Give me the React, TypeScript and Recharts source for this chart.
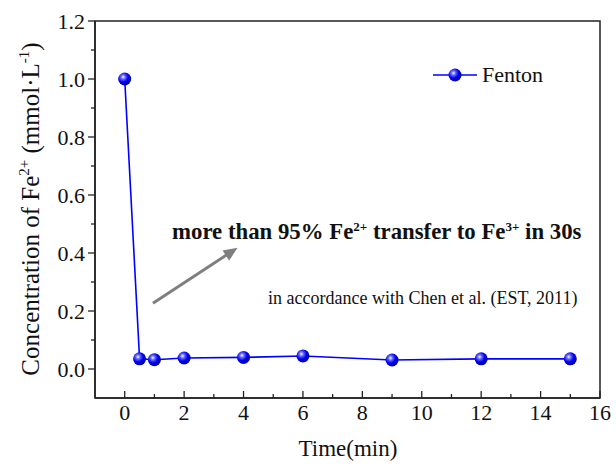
import React from "react";
import { LineChart, Line, XAxis, YAxis, ReferenceArea, ReferenceLine } from "recharts";

const timeMin = [0, 0.5, 1, 2, 4, 6, 9, 12, 15];
const fentonConc = [1.0, 0.035, 0.032, 0.038, 0.04, 0.045, 0.031, 0.035, 0.035];
const xTicks = [0, 1, 2, 3, 4, 5, 6, 7, 8, 9, 10, 11, 12, 13, 14, 15, 16];
const yTicks = [0, 0.1, 0.2, 0.3, 0.4, 0.5, 0.6, 0.7, 0.8, 0.9, 1.0, 1.1, 1.2];
const arrowFrom = { x: 0.95, y: 0.227 };
const arrowTo = { x: 3.8, y: 0.418 };

const data = timeMin.map((t, i) => ({ t, fenton: fentonConc[i] }));

const FONT = "'Liberation Serif', 'Times New Roman', serif";
const AXIS = "#222";

const GradDefs = () => (
  <defs>
    <radialGradient id="sphere" cx="38%" cy="35%" r="65%">
      <stop offset="0%" stopColor="#ffffff" />
      <stop offset="25%" stopColor="#6a6aff" />
      <stop offset="60%" stopColor="#0000f0" />
      <stop offset="100%" stopColor="#0000a0" />
    </radialGradient>
  </defs>
);

const SphereDot = (props: any) => {
  const { cx, cy, index } = props;
  if (cx == null || cy == null) return null;
  return (
    <g key={`d${index}`}>
      {index === 0 ? <GradDefs /> : null}
      <circle cx={cx} cy={cy} r={6.5} fill="url(#sphere)" />
    </g>
  );
};

const XTick = (props: any) => {
  const { x, y, payload } = props;
  const v = payload.value;
  const major = Math.round(v) % 2 === 0;
  return (
    <g>
      <line x1={x} x2={x} y1={y} y2={y - (major ? 7 : 4)} stroke={AXIS} strokeWidth={1.3} />
      {major ? (
        <text x={x} y={y + 22} textAnchor="middle" fontFamily={FONT} fontSize={22} fill="#111">
          {v}
        </text>
      ) : null}
    </g>
  );
};

const YTick = (props: any) => {
  const { x, y, payload } = props;
  const v = payload.value;
  const major = Math.round(v * 10) % 2 === 0;
  return (
    <g>
      <line x1={x} x2={x - (major ? 7 : 4)} y1={y} y2={y} stroke={AXIS} strokeWidth={1.3} />
      {major ? (
        <text x={x - 10} y={y + 7.5} textAnchor="end" fontFamily={FONT} fontSize={22} fill="#111">
          {v.toFixed(1)}
        </text>
      ) : null}
    </g>
  );
};

const ArrowShape = (props: any) => {
  const { x1, y1, x2, y2 } = props;
  if ([x1, y1, x2, y2].some((v) => v == null || isNaN(v))) return null;
  const ang = Math.atan2(y2 - y1, x2 - x1);
  const L = 14;
  const W = 6;
  const bx = x2 - L * Math.cos(ang);
  const by = y2 - L * Math.sin(ang);
  const px = -Math.sin(ang) * W;
  const py = Math.cos(ang) * W;
  return (
    <g>
      <line x1={x1} y1={y1} x2={bx + 2 * Math.cos(ang)} y2={by + 2 * Math.sin(ang)} stroke="#7f7f7f" strokeWidth={3} />
      <polygon points={`${x2},${y2} ${bx + px},${by + py} ${bx - px},${by - py}`} fill="#7f7f7f" />
    </g>
  );
};

export default function App() {
  return (
    <div style={{ position: "absolute", left: 0, top: 0, width: 616, height: 466, background: "#fff" }}>
      <LineChart width={616} height={466} data={data} margin={{ top: 21, right: 16, left: 0, bottom: 0 }}>
        <XAxis
          dataKey="t"
          type="number"
          domain={[-1, 16]}
          ticks={xTicks}
          interval={0}
          allowDataOverflow
          height={68}
          tickSize={0}
          tickMargin={0}
          tickLine={false}
          tick={<XTick />}
          axisLine={{ stroke: AXIS, strokeWidth: 1.5 }}
        />
        <YAxis
          type="number"
          domain={[-0.1, 1.2]}
          ticks={yTicks}
          interval={0}
          allowDataOverflow
          width={95}
          tickSize={0}
          tickMargin={0}
          tickLine={false}
          tick={<YTick />}
          axisLine={{ stroke: AXIS, strokeWidth: 1.5 }}
        />
        <ReferenceArea x1={-1} x2={16} y1={-0.1} y2={1.2} fill="none" stroke={AXIS} strokeWidth={1.5} fillOpacity={0} />
        <ReferenceLine
          segment={[arrowFrom, arrowTo]}
          stroke="#7f7f7f"
          shape={(p: any) => <ArrowShape {...p} />}
        />
        <Line
          dataKey="fenton"
          stroke="#0000ff"
          strokeWidth={1.6}
          dot={<SphereDot />}
          activeDot={false}
          isAnimationActive={false}
        />
      </LineChart>

      <div
        style={{
          position: "absolute",
          left: 30,
          top: 209,
          transform: "translate(-50%, -50%) rotate(-90deg)",
          whiteSpace: "nowrap",
          fontFamily: FONT,
          fontSize: 25,
          color: "#111",
          lineHeight: 1,
        }}
      >
        Concentration of Fe<sup style={{ fontSize: 15 }}>2+</sup> (mmol·L<sup style={{ fontSize: 15 }}>-1</sup>)
      </div>

      <div
        style={{
          position: "absolute",
          left: 348,
          top: 448,
          transform: "translate(-50%, -50%)",
          whiteSpace: "nowrap",
          fontFamily: FONT,
          fontSize: 23,
          color: "#111",
          lineHeight: 1,
        }}
      >
        Time(min)
      </div>

      <div
        style={{
          position: "absolute",
          left: 433,
          top: 62,
          height: 26,
          display: "flex",
          alignItems: "center",
          whiteSpace: "nowrap",
          fontFamily: FONT,
          fontSize: 22,
          color: "#111",
        }}
      >
        <svg width={44} height={26}>
          <GradDefs />
          <line x1={0} x2={44} y1={13} y2={13} stroke="#0000ff" strokeWidth={1.6} />
          <circle cx={22} cy={13} r={6.5} fill="url(#sphere)" />
        </svg>
        <span style={{ marginLeft: 5 }}>Fenton</span>
      </div>

      <div
        style={{
          position: "absolute",
          left: 172,
          top: 232,
          transform: "translateY(-50%)",
          whiteSpace: "nowrap",
          fontFamily: FONT,
          fontSize: 22.8,
          fontWeight: "bold",
          color: "#111",
          lineHeight: 1,
        }}
      >
        more than 95% Fe<sup style={{ fontSize: 13 }}>2+</sup> transfer to Fe<sup style={{ fontSize: 13 }}>3+</sup> in 30s
      </div>

      <div
        style={{
          position: "absolute",
          left: 268,
          top: 298,
          transform: "translateY(-50%)",
          whiteSpace: "nowrap",
          fontFamily: FONT,
          fontSize: 18,
          color: "#111",
          lineHeight: 1,
        }}
      >
        in accordance with Chen et al. (EST, 2011)
      </div>
    </div>
  );
}
